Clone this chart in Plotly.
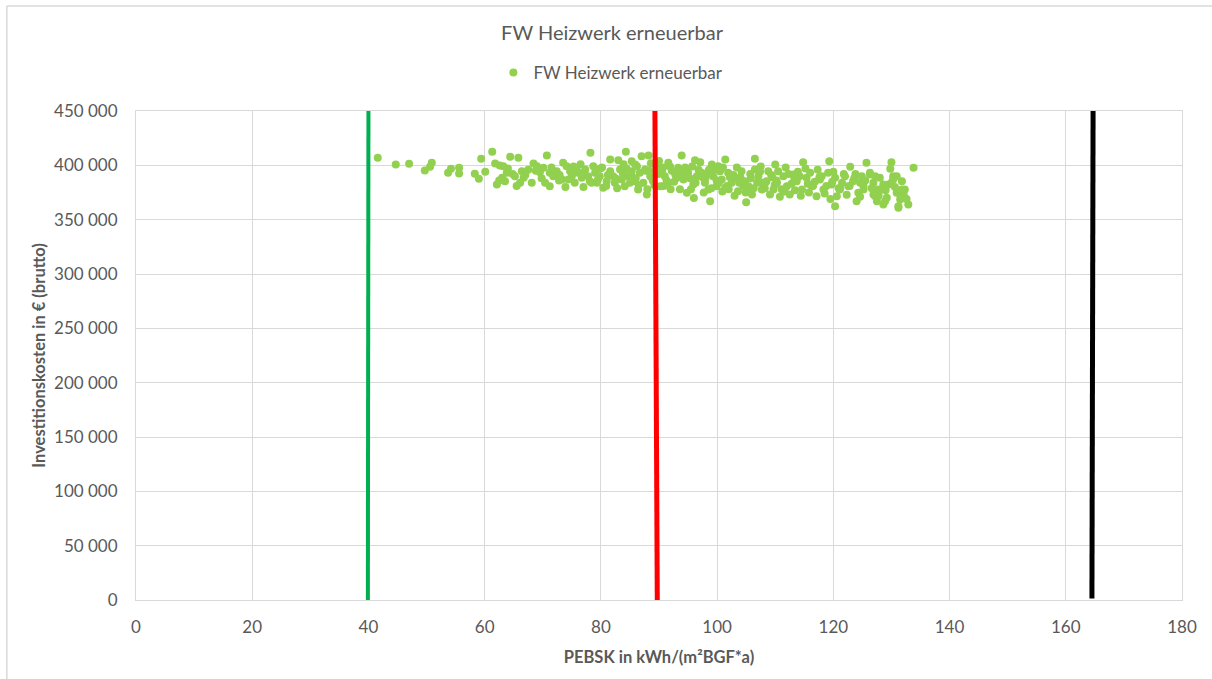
import plotly.graph_objects as go

# PEBSK (kWh/(m²BGF*a)) and gross investment cost (€) per variant
pebsk = [
    41.6, 44.7, 47.0, 50.9, 50.6, 49.7, 53.7, 54.2, 55.6, 55.6, 58.3, 59.0, 59.4, 60.1, 61.3, 61.8, 62.6, 62.1, 63.0,
    64.4, 65.8, 70.7, 78.2, 81.6, 83.0, 84.3, 85.3, 63.2, 63.8, 65.2, 66.4, 66.7, 68.4, 69.0, 69.5, 68.1, 70.1,
    71.2, 71.8, 71.2, 72.4, 73.3, 73.5, 74.1, 74.7, 75.0, 75.5, 76.1, 76.7, 77.3, 77.8, 78.1, 78.7, 79.0, 79.3,
    79.8, 80.4, 81.0, 81.6, 82.1, 82.4, 83.3, 83.6, 84.1, 84.7, 85.3, 85.6, 85.9, 66.1, 63.5,
    87.0, 88.2, 93.9, 91.6, 96.2, 97.1, 101.4, 106.5, 99.1, 100.2, 86.2, 86.7, 87.6, 88.5, 87.3, 87.9, 86.4,
    90.5, 91.0, 90.2, 91.6, 92.8, 93.3, 94.2, 95.0, 94.8, 95.9, 96.5, 97.3, 97.9, 98.5, 98.8, 99.3, 99.9,
    100.5, 100.8, 101.4, 101.9, 102.5, 103.1, 103.6, 104.2, 104.8, 105.4, 106.0, 106.5, 107.1, 107.7, 108.5,
    108.8, 109.1,
    110.0, 114.8, 119.3, 122.9, 125.7, 130.0, 129.8, 110.5, 111.4, 110.3, 109.7, 112.0, 113.1, 113.7, 112.5,
    114.6, 115.4, 116.0, 116.3, 117.1, 117.7, 118.3, 119.1, 119.7, 120.3, 120.6, 120.3, 121.1, 122.0, 122.6,
    123.4, 124.3, 124.9, 125.2, 126.3, 126.9, 127.2, 128.0, 128.3, 128.9, 129.5, 130.3, 130.9, 131.2, 131.8,
    132.3,
    133.8, 126.3, 127.2, 124.6, 125.2, 126.9, 127.7, 128.6, 127.5, 129.2, 128.6, 130.0, 130.9, 130.3, 131.8,
    132.1, 131.5, 131.2, 132.9,
    88.9, 89.5, 90.0, 92.2, 93.0, 94.5, 95.5, 96.8, 98.0, 99.6, 100.9, 102.2, 103.4, 104.5, 105.7, 106.9,
    107.5, 108.2, 109.5, 110.8, 111.8, 112.8, 113.4, 114.2, 115.8, 116.8, 117.3, 118.8, 119.5, 121.5, 122.3,
    123.8, 124.0, 76.5, 77.0, 80.2, 82.8, 84.4, 86.0, 72.8, 69.8, 67.5, 64.8, 73.9, 75.8, 79.5, 81.2, 83.8,
    85.0, 88.0, 91.3, 97.7, 103.0, 105.0,
    62.5, 64.0, 65.5, 67.0, 68.8, 70.4, 71.5, 72.9, 74.4, 75.3, 76.9, 78.4, 79.9, 80.9, 82.5, 83.9, 85.2,
    86.5, 87.7, 88.6, 89.9, 90.8, 91.9, 92.6, 93.6, 94.9, 95.7, 96.3, 97.5, 98.3, 99.0, 99.9, 101.0, 101.7,
    102.8, 103.8, 104.9, 105.8, 106.3, 107.4, 108.3, 109.3, 110.2, 111.1, 112.3, 113.3, 114.4, 115.2, 116.5,
    117.6, 118.5, 119.8, 120.9, 121.8, 122.8, 123.6, 124.6, 125.5, 126.6, 127.8, 129.0, 130.6, 131.6, 132.6,
    88.3, 89.2, 90.7, 92.0, 93.8, 95.3, 96.0, 98.6, 100.3, 102.0, 104.0, 105.5, 107.8, 109.9, 111.6, 113.9,
    115.6, 118.0, 120.0, 121.2,
]
invest = [
    406900, 400750, 401400, 402300, 398600, 395200, 393100, 396800, 397700, 392500, 392200, 387600, 406000,
    394000, 412400, 401700, 399900, 382300, 388500,
    407800, 406900, 409000, 411500, 405300, 404700, 412400, 403800, 399200, 393100, 390000, 394600, 388500,
    401700, 399200, 393700, 383900, 397700, 393100, 390000, 380800, 394600, 386900, 402300, 399200, 394600,
    390000, 383900, 393100, 388500, 396100, 390000, 385400, 399200, 393100, 383900, 390000, 379300, 385400,
    394600, 390000, 383900, 396100, 386900, 380800, 390000, 394600, 385400, 400700, 383900, 385400,
    408400, 409000, 409000, 402300, 404700, 402900, 405300, 406000, 400700, 399200, 399200, 393100, 396100,
    390000, 383900, 373100, 377700, 394600, 390000, 380800, 383900, 391500, 397700, 386900, 393100, 374700,
    382300, 390000, 393100, 383900, 377700, 367000, 390000, 380800, 394600, 386900, 379300, 393100, 383900,
    388500, 376200, 394600, 385400, 380800, 373100, 396100, 390000, 377700, 385400, 394600, 373100,
    400700, 402900, 403800, 398600, 402300, 402900, 396800, 394600, 390000, 383900, 377700, 380800, 391500,
    385400, 373100, 377700, 388500, 393100, 380800, 371600, 386900, 377700, 393100, 382300, 388500, 371600,
    362400, 377700, 390000, 380800, 385400, 374700, 390000, 380800, 393100, 383900, 371600, 388500, 377700,
    367000, 382300, 390000, 374700, 360900, 385400, 377700,
    397700, 391500, 390000, 383900, 377700, 373100, 377700, 382300, 367000, 370100, 364000, 383900, 390000,
    386900, 377700, 373100, 368500, 362400, 364000,
    386000, 399000, 404000, 395000, 388000, 398000, 378000, 396000, 388000, 396000, 376000, 389000, 398000,
    381000, 392000, 384000, 399000, 379000, 389000, 371000, 398000, 383000, 377000, 390000, 375000, 385000,
    396000, 381000, 369000, 384000, 373000, 392000, 367000, 401000, 380000, 398000, 379000, 397000, 388000,
    386000, 388000, 396000, 392000, 380000, 396000, 387000, 391000, 392000, 384000, 378000, 386000, 375000,
    372000, 366000,
    386000, 397000, 381000, 391000, 395000, 384000, 398000, 391000, 387000, 399000, 393000, 384000, 397000,
    381000, 388000, 401000, 391000, 382000, 395000, 402000, 392000, 381000, 399000, 385000, 378000, 391000,
    399000, 384000, 389000, 393000, 379000, 386000, 398000, 381000, 391000, 384000, 375000, 388000, 379000,
    394000, 384000, 391000, 386000, 378000, 392000, 388000, 372000, 397000, 381000, 389000, 374000, 385000,
    379000, 392000, 381000, 388000, 371000, 386000, 379000, 372000, 377000, 380000, 371000, 369000,
    395000, 382000, 398000, 378000, 393000, 388000, 370000, 396000, 384000, 378000, 389000, 377000, 384000,
    382000, 376000, 394000, 383000, 390000, 394000, 379000,
]

# Reference limits drawn as vertical bars (x at top, x at bottom, y top, y bottom)
limit_lines = [
    dict(x_top=40.0, x_bottom=39.9, y_top=450000, y_bottom=0, color="#00B050", width=4),
    dict(x_top=89.3, x_bottom=89.7, y_top=450000, y_bottom=0, color="#FF0000", width=5),
    dict(x_top=164.7, x_bottom=164.5, y_top=455000, y_bottom=1400, color="#000000", width=5),
]

x_ticks = [0, 20, 40, 60, 80, 100, 120, 140, 160, 180]
y_ticks = [0, 50000, 100000, 150000, 200000, 250000, 300000, 350000, 400000, 450000]
y_tick_text = ["0", "50 000", "100 000", "150 000", "200 000", "250 000", "300 000",
               "350 000", "400 000", "450 000"]

series_name = "FW Heizwerk erneuerbar"
text_color = "#595959"
grid_color = "#D9D9D9"
font_family = "Lato, 'Open Sans', sans-serif"

fig = go.Figure()
fig.add_trace(go.Scatter(
    x=pebsk, y=invest, mode="markers", name=series_name,
    marker=dict(color="#92D050", size=8, line=dict(width=0)),
))

shapes = []
for ln in limit_lines:
    shapes.append(dict(
        type="line", xref="x", yref="y",
        x0=ln["x_top"], y0=ln["y_top"], x1=ln["x_bottom"], y1=ln["y_bottom"],
        line=dict(color=ln["color"], width=ln["width"]), layer="above",
    ))
# chart frame (left and top edges)
shapes.append(dict(type="line", xref="paper", yref="paper", x0=-0.1235, x1=-0.1235, y0=-0.2,
                   y1=1.2145, line=dict(color="#D9D9D9", width=1.5)))
shapes.append(dict(type="line", xref="paper", yref="paper", x0=-0.1235, x1=1.2, y0=1.2145,
                   y1=1.2145, line=dict(color="#D9D9D9", width=1.5)))

fig.update_layout(
    width=1212, height=679,
    margin=dict(l=136, r=30, t=111, b=78.5),
    paper_bgcolor="white", plot_bgcolor="white",
    font=dict(family=font_family, color=text_color, size=16),
    title=dict(text=series_name, x=0.505, xanchor="center", y=1 - 33 / 679, yanchor="middle",
               font=dict(size=20, color=text_color)),
    showlegend=True,
    legend=dict(orientation="h", x=0.454, xanchor="center", y=1.0776, yanchor="middle",
                font=dict(size=17, color=text_color), itemwidth=30),
    shapes=shapes,
    xaxis=dict(
        range=[0, 180], tickvals=x_ticks, showgrid=True, gridcolor=grid_color, gridwidth=1,
        zeroline=False, showline=True, linecolor=grid_color, mirror=True, ticks="",
        tickfont=dict(size=17, color=text_color), ticklabelstandoff=12,
        title=dict(text="<b>PEBSK in kWh/(m²BGF*a)</b>", font=dict(size=16.5, color=text_color), standoff=15),
    ),
    yaxis=dict(
        range=[0, 450000], tickvals=y_ticks, ticktext=y_tick_text, showgrid=True, gridcolor=grid_color,
        gridwidth=1, zeroline=False, showline=True, linecolor=grid_color, mirror=True, ticks="",
        tickfont=dict(size=17, color=text_color), ticklabelstandoff=14,
        title=dict(text="<b>Investitionskosten in € (brutto)</b>", font=dict(size=16.5, color=text_color),
                   standoff=4),
    ),
)

fig.write_html("out.html")
